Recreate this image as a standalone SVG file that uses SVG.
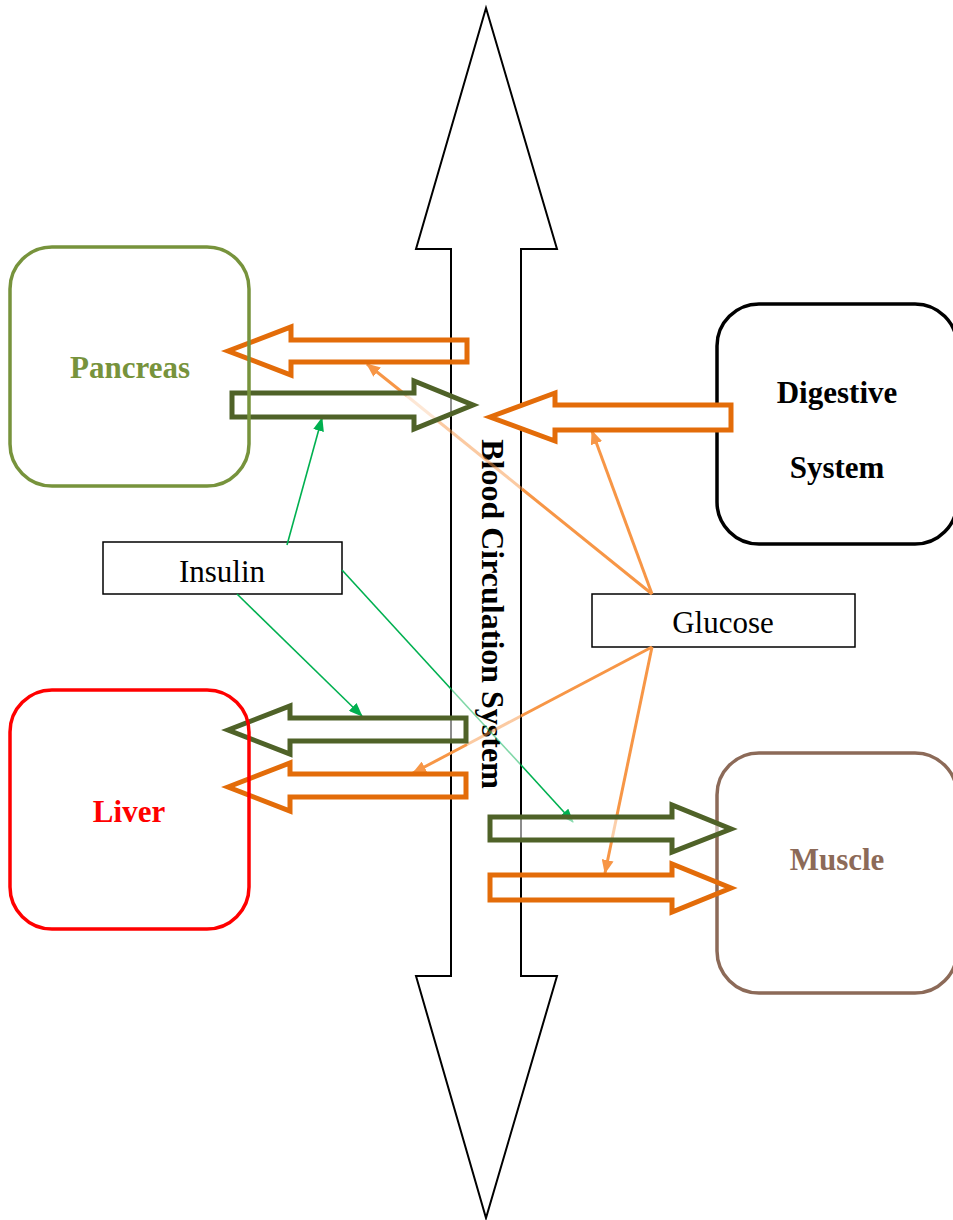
<svg xmlns="http://www.w3.org/2000/svg" width="953" height="1220" viewBox="0 0 953 1220">
<style>
.box{fill:none;stroke-width:3.5}
.lbl{font-family:"Liberation Serif","Times New Roman",serif;font-size:31px;text-anchor:middle}
.b{font-weight:bold}
.vt{font-size:32px}
.oblk{fill:#fff;stroke:#E36C09;stroke-width:5;stroke-miterlimit:10}
.gblk{fill:#fff;fill-opacity:0.55;stroke:#4F6228;stroke-width:5;stroke-miterlimit:10}
.othin{stroke:#F79646;stroke-width:3;fill:none}
.gthin{stroke:#00B050;stroke-width:1.6;fill:none}
.fade{stroke-opacity:0.5}
</style>
<defs>
<marker id="ao" markerUnits="userSpaceOnUse" markerWidth="14" markerHeight="12" refX="13" refY="6" orient="auto">
<path d="M0,0 L14,6 L0,12 z" fill="#F79646"/>
</marker>
<marker id="ag" markerUnits="userSpaceOnUse" markerWidth="14" markerHeight="11" refX="13" refY="5.5" orient="auto">
<path d="M0,0 L14,5.5 L0,11 z" fill="#00B050"/>
</marker>
</defs>

<g id="blood-circulation">
<polygon points="486,8 557,249 521,249 521,976 557,976 486,1218 416,976 451,976 451,249 416,249" fill="#fff" stroke="#000" stroke-width="2"/>
<text class="lbl b vt" transform="translate(482,614) rotate(90)">Blood Circulation System</text>
</g>

<g id="digestive">
<rect class="box" x="717" y="304" width="240" height="240" rx="42" stroke="#000"/>
<text class="lbl b" x="837" y="403">Digestive</text>
<text class="lbl b" x="837" y="478">System</text>
</g>

<g id="muscle">
<rect class="box" x="717" y="753" width="240" height="240" rx="42" stroke="#8C6A58"/>
<text class="lbl b" x="837" y="870" fill="#8C6A58">Muscle</text>
</g>

<g id="insulin">
<rect x="103" y="542" width="239" height="52" fill="#fff" stroke="#000" stroke-width="1.5"/>
<text class="lbl" x="222" y="582">Insulin</text>
</g>

<g id="glucose">
<rect x="592" y="594" width="263" height="53" fill="#fff" stroke="#000" stroke-width="1.5"/>
<text class="lbl" x="723" y="633">Glucose</text>
</g>

<g id="connectors">
<!-- glucose -> pancreas arrow -->
<path class="othin" d="M652,594 L522,489"/>
<path class="othin fade" d="M522,489 L407,396"/>
<path class="othin" d="M407,396 L367,364" marker-end="url(#ao)"/>
<!-- glucose -> digestive arrow -->
<path class="othin" d="M652,594 L592,431" marker-end="url(#ao)"/>
<!-- glucose -> liver arrow -->
<path class="othin" d="M652,647 L521,716"/>
<path class="othin fade" d="M521,716 L467,744.5"/>
<path class="othin" d="M467,744.5 L413,773" marker-end="url(#ao)"/>
<!-- glucose -> muscle arrow -->
<path class="othin" d="M652,647 L605,873" marker-end="url(#ao)"/>
<!-- insulin -> pancreas arrow -->
<path class="gthin" d="M287,545 L322,418" marker-end="url(#ag)"/>
<!-- insulin -> liver arrow -->
<path class="gthin" d="M237,594 L362,716" marker-end="url(#ag)"/>
<!-- insulin -> muscle arrow -->
<path class="gthin" d="M342,570 L451,689"/>
<path class="gthin fade" d="M451,689 L521,765"/>
<path class="gthin" d="M521,765 L573,822" marker-end="url(#ag)"/>

<!-- block arrows -->
<polygon class="oblk" fill-opacity="0" points="228,351 291,327 291,340 467,340 467,362 291,362 291,375"/>
<polygon class="gblk" points="232,393 414,393 414,381 473,405 414,429 414,417 232,417"/>
<polygon class="oblk" points="490,417 555,393 555,405 731,405 731,430 555,430 555,441"/>
<polygon class="gblk" points="228,730 290,706 290,718 466,718 466,741 290,741 290,754"/>
<polygon class="oblk" fill-opacity="0" points="228,787 290,763 290,774 466,774 466,797 290,797 290,811"/>
<polygon class="gblk" points="490,817 672,817 672,805 731,829 672,852 672,840 490,840"/>
<polygon class="oblk" fill-opacity="0" points="490,875 672,875 672,864 731,888 672,912 672,900 490,900"/>
</g>

<g id="pancreas">
<rect class="box" x="10" y="247" width="239" height="239" rx="42" stroke="#77933C"/>
<text class="lbl b" x="130" y="378" fill="#77933C">Pancreas</text>
</g>

<g id="liver">
<rect class="box" x="10" y="690" width="239" height="239" rx="42" stroke="#FF0000"/>
<text class="lbl b" x="129" y="822" fill="#FF0000">Liver</text>
</g>
</svg>
